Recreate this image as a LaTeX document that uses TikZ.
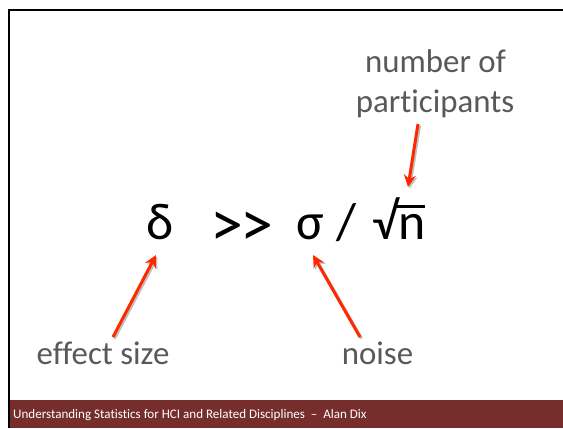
\documentclass[tikz,border=0pt]{standalone}
\usepackage{fontspec}
\setmainfont{Carlito}[Ligatures=NoCommon]
\usetikzlibrary{arrows.meta}
\definecolor{footred}{RGB}{118,46,44}
\definecolor{labgray}{RGB}{89,89,89}
\definecolor{arrred}{RGB}{255,40,0}
\begin{document}
\begin{tikzpicture}[x=1bp,y=-1bp,
  formula/.style={anchor=base,inner sep=0,font=\fontsize{52}{52}\selectfont,text=black},
  chev/.style={anchor=base,inner sep=0,font=\fontsize{66}{66}\selectfont,text=black},
  lab/.style={anchor=base,inner sep=0,font=\fontsize{33}{40}\selectfont,text=labgray},
  pointer/.style={draw=arrred,line width=3bp,-{Stealth[length=12bp,width=12bp]}},
  pshadow/.style={draw=black!25,line width=3bp,-{Stealth[length=12bp,width=12bp]}}]
\useasboundingbox (0,0) rectangle (563,428);
\fill[white] (0,0) rectangle (563,428);
% frame
\draw[line width=2.2bp] (9,428) -- (9,10) -- (563,10);
% footer
\fill[footred] (10,400) rectangle (563,428);
\node[anchor=base west,inner sep=0,text=white,font=\fontsize{13.1}{14}\selectfont] (foot) at (13,418) {Understanding Statistics for HCI and Related Disciplines\ \ –\ \ Alan Dix};
% formula
\node[formula] (delta) at (160.5,239) {δ};
\node[chev] (gg) at (242,246) {\char`>\kern-3bp\char`>};
\node[formula] (sigma) at (310,239) {σ};
\node[formula] (slash) at (346.5,239) {/};
\node[formula] (sqrtn) at (399,239) {√n};
\draw[line width=2.8bp] ([shift={(-4,-32.3)}]sqrtn.base) -- ([shift={(26,-32.3)}]sqrtn.base);
% labels
\node[lab] (effect) at (103,364) {effect size};
\node[lab] (noise) at (377.5,364) {noise};
\node[lab] (num) at (435.5,72) {number of};
\node[lab] (part) at (435,112) {participants};
% arrow endpoints
\coordinate (e0) at (113,337); \coordinate (e1) at (156,255);
\coordinate (n0) at (360,337); \coordinate (n1) at (313,255);
\coordinate (p0) at (418,124); \coordinate (p1) at (408,187);
\draw[pshadow] ([shift={(1.5,1.5)}]e0) -- ([shift={(1.5,1.5)}]e1);
\draw[pshadow] ([shift={(1.5,1.5)}]n0) -- ([shift={(1.5,1.5)}]n1);
\draw[pshadow] ([shift={(1.5,1.5)}]p0) -- ([shift={(1.5,1.5)}]p1);
\draw[pointer] (e0) -- (e1);
\draw[pointer] (n0) -- (n1);
\draw[pointer] (p0) -- (p1);
\end{tikzpicture}
\end{document}
